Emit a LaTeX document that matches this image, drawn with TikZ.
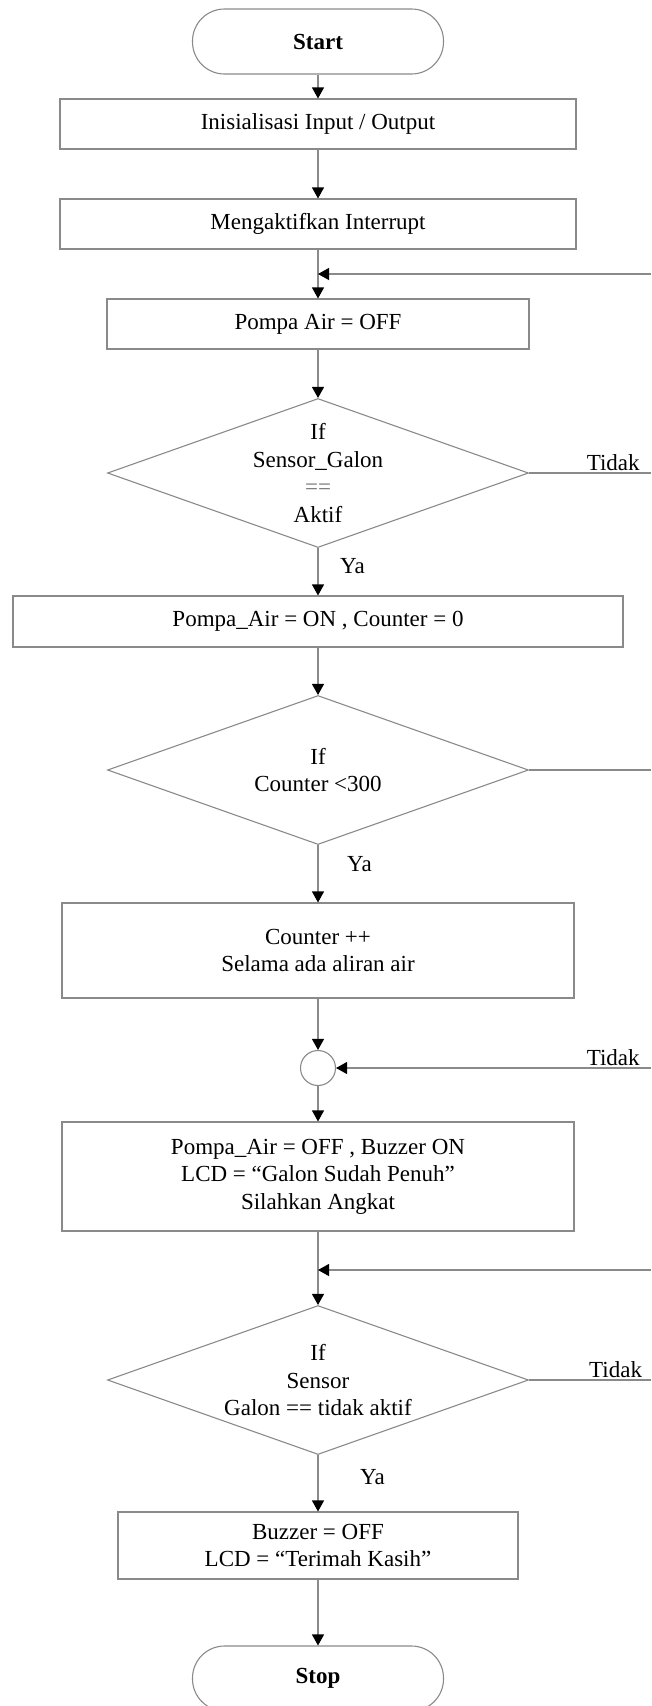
\documentclass[tikz,border=0pt]{standalone}
\usepackage{fontspec}
\setmainfont{Liberation Serif}
\usepackage{tikz}
\usetikzlibrary{shapes.geometric,arrows.meta,positioning}
\definecolor{clrLine}{HTML}{8A8A8A}
\tikzset{
  procbox/.style={rectangle, line width=1.1pt, draw=clrLine, fill=white,
    align=center, inner sep=2pt, font=\fontsize{23}{27.6}\selectfont},
  termbox/.style={rectangle, rounded corners=32pt, line width=1.1pt,
    draw=clrLine, fill=white, align=center, minimum width=251pt,
    minimum height=65pt, font=\fontsize{23}{27.6}\selectfont\bfseries},
  decis/.style={diamond, aspect=2.8, inner sep=0pt, line width=1.1pt,
    draw=clrLine, fill=white, align=center, minimum width=421pt,
    minimum height=149pt, font=\fontsize{23}{27.6}\selectfont},
  joinpt/.style={circle, line width=1.1pt, draw=clrLine, fill=white,
    minimum size=35pt, inner sep=0pt},
  edge/.style={-{Triangle[length=11pt, width=12pt, color=black]},
    line width=1.1pt, clrLine},
  bus/.style={line width=1.1pt, clrLine},
  lbl/.style={font=\fontsize{23}{27.6}\selectfont, text=black, inner sep=2pt},
}

\begin{document}
\begin{tikzpicture}[x=1pt, y=-1pt]

\useasboundingbox (0,0) rectangle (651,1706);

\def\xm{318}    % Hauptachse
\def\xr{651}    % rechter Rand

\node[termbox] (start) at (\xm, 41.5) {Start};
\node[procbox, minimum width=516pt, minimum height=50pt] (init) at (\xm, 124)
  {Inisialisasi Input / Output};
\node[procbox, minimum width=516pt, minimum height=50pt] (intr) at (\xm, 224)
  {Mengaktifkan Interrupt};
\node[procbox, minimum width=422pt, minimum height=50pt] (pompaoff) at (\xm, 324)
  {Pompa Air = OFF};
\node[decis] (cek1) at (\xm, 473)
  {If\\Sensor\_Galon\\{\color{black!55}==}\\Aktif};
\node[procbox, minimum width=610pt, minimum height=51pt] (pompaon) at (\xm, 621.5)
  {Pompa\_Air = ON , Counter = 0};
\node[decis] (cek2) at (\xm, 770) {If\\Counter <300};
\node[procbox, minimum width=512pt, minimum height=95pt] (counter) at (\xm, 950.5)
  {Counter ++\\Selama ada aliran air};
\node[joinpt] (merge) at (\xm, 1068) {};
\node[procbox, minimum width=512pt, minimum height=109pt] (pompabuz) at (\xm, 1176.5)
  {Pompa\_Air = OFF , Buzzer ON\\LCD = “Galon Sudah Penuh”\\Silahkan Angkat};
\node[decis] (cek3) at (\xm, 1380)
  {If\\Sensor\\Galon == tidak aktif};
\node[procbox, minimum width=400pt, minimum height=67pt] (buzoff) at (\xm, 1545.5)
  {Buzzer = OFF\\LCD = “Terimah Kasih”};
\node[termbox] (stop) at (\xm, 1678.5) {Stop};

% Ruecklaeufe kommen vom rechten Rand
\coordinate (j1) at (\xm, 274);
\coordinate (j3) at (\xm, 1270);
\coordinate (rt1) at (\xr, 274);
\coordinate (rt2) at (\xr, 473);
\coordinate (rt3) at (\xr, 770);
\coordinate (rt4) at (\xr, 1068);
\coordinate (rt5) at (\xr, 1270);
\coordinate (rt6) at (\xr, 1380);

\draw[edge] (start) -- (init);
\draw[edge] (init) -- (intr);
\draw[edge] (intr) -- (pompaoff);
\draw[edge] (rt1) -- (j1);
\draw[edge] (pompaoff) -- (cek1);
\draw[bus] (cek1.east) -- node[lbl, above, pos=0.69] (tidak1) {Tidak} (rt2);
\draw[edge] (cek1) -- (pompaon);
\draw[edge] (pompaon) -- (cek2);
\draw[bus] (cek2.east) -- (rt3);
\draw[edge] (cek2) -- (counter);
\draw[edge] (counter) -- (merge);
\draw[edge] (rt4) -- node[lbl, above, pos=0.12] (tidak2) {Tidak} (merge);
\draw[edge] (merge) -- (pompabuz);
\draw[edge] (pompabuz) -- (cek3);
\draw[edge] (rt5) -- (j3);
\draw[bus] (cek3.east) -- node[lbl, above, pos=0.71] (tidak3) {Tidak} (rt6);
\draw[edge] (cek3) -- (buzoff);
\draw[edge] (buzoff) -- (stop);

\node[lbl, anchor=west] (ya1) at (338, 566) {Ya};
\node[lbl, anchor=west] (ya2) at (345, 864) {Ya};
\node[lbl, anchor=west] (ya3) at (358, 1477) {Ya};

\end{tikzpicture}
\end{document}
